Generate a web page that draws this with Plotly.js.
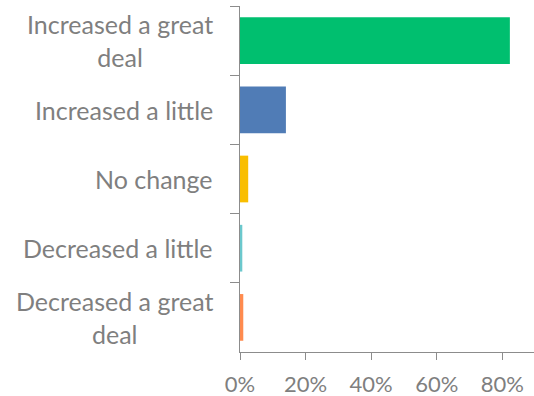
<!DOCTYPE html>
<html>
<head>
<meta charset="utf-8">
<script src="https://cdn.plot.ly/plotly-3.0.1.min.js"></script>
<style>html,body{margin:0;padding:0;background:#fff;}#chart{width:534px;height:396px;}</style>
</head>
<body>
<div id="chart"></div>
<script>
const categories = ["Increased a great deal", "Increased a little", "No change", "Decreased a little", "Decreased a great deal"];
const labelText = ["Increased a great<br>deal", "Increased a little", "No change", "Decreased a little", "Decreased a great<br>deal"];
const values = [0.823, 0.140, 0.025, 0.007, 0.010];
const colors = ["#00BF6F", "#507CB6", "#F9BE00", "#6BC8CD", "#FF8B4F"];
const tickVals = [0, 0.2, 0.4, 0.6, 0.8];
const tickLabels = ["0%", "20%", "40%", "60%", "80%"];

const FONT = "Lato, 'Open Sans', sans-serif";
const GRAY = "#7f7f7f";
const AX = "#8c8c8c";

const trace = {
  type: "bar",
  orientation: "h",
  x: values,
  y: categories,
  marker: {color: colors},
  hoverinfo: "none"
};

const annotations = categories.map((c, i) => ({
  xref: "paper", yref: "y",
  x: 0, y: c,
  xanchor: "right", yanchor: "middle",
  xshift: -25,
  align: "center",
  showarrow: false,
  text: labelText[i],
  font: {family: FONT, size: 25, color: GRAY}
}));

const layout = {
  width: 534, height: 396,
  margin: {l: 240, r: 0, t: 6, b: 44, pad: 0},
  paper_bgcolor: "#fff", plot_bgcolor: "#fff",
  showlegend: false,
  bargap: 0.325,
  xaxis: {
    range: [0, 0.8966],
    tickvals: tickVals, ticktext: tickLabels,
    ticks: "outside", ticklen: 7, tickcolor: AX, tickwidth: 1,
    showline: true, linecolor: AX, linewidth: 1,
    showgrid: false, zeroline: false,
    tickfont: {family: FONT, size: 22, color: GRAY},
    ticklabelstandoff: 6,
    fixedrange: true
  },
  yaxis: {
    type: "category",
    categoryorder: "array", categoryarray: categories,
    autorange: "reversed",
    showticklabels: false,
    ticks: "outside", ticklen: 9, tickcolor: AX, tickwidth: 1,
    tickson: "boundaries",
    showline: true, linecolor: AX, linewidth: 1,
    showgrid: false, zeroline: false,
    fixedrange: true
  },
  annotations: annotations
};

Plotly.newPlot("chart", [trace], layout, {staticPlot: true, displayModeBar: false});
</script>
</body>
</html>
